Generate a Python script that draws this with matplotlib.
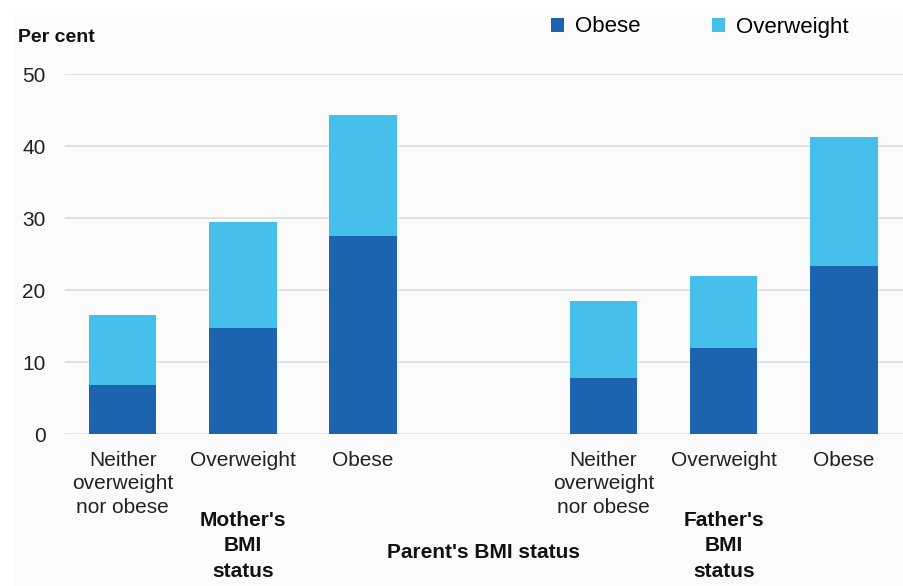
import numpy as np
import matplotlib.pyplot as plt
import matplotlib.transforms as mtransforms
from matplotlib.patches import Rectangle

plt.rcParams['font.family'] = ['Liberation Sans', 'DejaVu Sans']

# Child overweight / obesity by parent's BMI status (per cent)
categories = ['Neither\noverweight\nnor obese', 'Overweight', 'Obese',
              'Neither\noverweight\nnor obese', 'Overweight', 'Obese']
positions = [0, 1, 2, 4, 5, 6]
obese = [6.8, 14.7, 27.5, 7.8, 11.9, 23.3]
overweight = [9.7, 14.7, 16.8, 10.7, 10.0, 18.0]
groups = ["Mother's\nBMI\nstatus", "Father's\nBMI\nstatus"]
group_pos = [1, 5]

dark = '#1c63b0'
light = '#46c0ea'
grid_c = '#dde4e7'

fig = plt.figure(figsize=(9.04, 5.86), dpi=100, facecolor='white')
# light panel behind the chart
fig.patches.append(Rectangle((13/904, 0), 1, 1 - 15/586, transform=fig.transFigure,
                             facecolor='#fbfbfb', edgecolor='none', zorder=-1))
ax = fig.add_axes([65/904, 1 - 434/586, 1 - 65/904, (434 - 74)/586])
ax.set_facecolor('none')

ax.bar(positions, obese, width=0.56, color=dark, label='Obese', zorder=3)
ax.bar(positions, overweight, width=0.56, bottom=obese, color=light,
       label='Overweight', zorder=3)

ax.set_ylim(0, 50)
ax.set_xlim(-0.48, 6.5)
ax.set_yticks(range(0, 51, 10))
ax.yaxis.grid(True, color=grid_c, linewidth=1.4, zorder=0)
for s in ax.spines.values():
    s.set_visible(False)
ax.tick_params(axis='y', length=0, pad=14, labelsize=15, labelcolor='#222222')
ax.set_xticks(positions)
ax.set_xticklabels(categories, fontsize=15, color='#222222', linespacing=1.3)
ax.tick_params(axis='x', length=0, pad=12)

trans = mtransforms.blended_transform_factory(ax.transData, fig.transFigure)
for g, p in zip(groups, group_pos):
    ax.text(p, 1 - 511/586, g, transform=trans, ha='center', va='top',
            fontsize=15, fontweight='bold', color='#111111', linespacing=1.42)
ax.text(3, 1 - 552/586, "Parent's BMI status", transform=trans, ha='center',
        va='center', fontsize=15, fontweight='bold', color='#111111')

fig.text(18/904, 1 - 38/586, 'Per cent', ha='left', va='center',
         fontsize=14, fontweight='bold', color='#111111')

fig.legend(loc='center', bbox_to_anchor=(700/904, 1 - 27/586), ncol=2,
           frameon=False, fontsize=16, handlelength=0.6, handleheight=0.6,
           handletextpad=0.5, columnspacing=3.2)

fig.savefig('out.png', dpi=100, facecolor=fig.get_facecolor())
